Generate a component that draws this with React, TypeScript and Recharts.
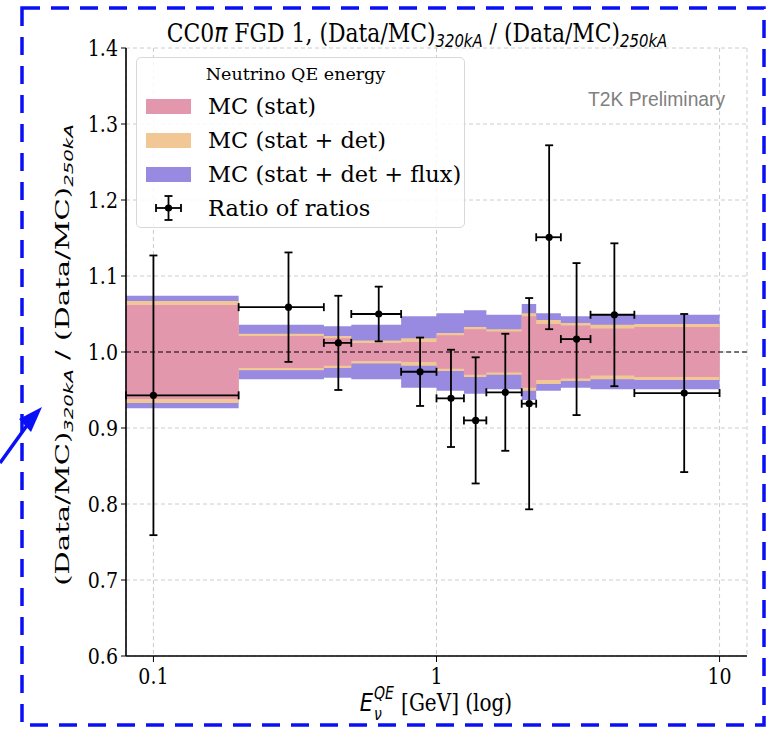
import React from "react";
import {
  Area,
  CartesianGrid,
  ComposedChart,
  ErrorBar,
  ReferenceLine,
  Scatter,
  XAxis,
  YAxis,
} from "recharts";

// energy bins (GeV); the first bin starts below the visible range
const binEdges = [0.08, 0.2, 0.4, 0.5, 0.75, 1, 1.25, 1.5, 2, 2.25, 2.75, 3.5, 5, 10];
const binCenters = [0.1, 0.3, 0.45, 0.625, 0.875, 1.125, 1.375, 1.75, 2.125, 2.5, 3.125, 4.25, 7.5];

const ratioOfRatios = [0.943, 1.059, 1.012, 1.05, 0.974, 0.939, 0.91, 0.947, 0.932, 1.151, 1.017, 1.049, 0.946];
const ratioErr = [0.184, 0.072, 0.062, 0.036, 0.045, 0.064, 0.083, 0.077, 0.139, 0.121, 0.1, 0.094, 0.104];

// half widths of the MC bands around 1
const statErr = [0.062, 0.021, 0.018, 0.012, 0.013, 0.022, 0.03, 0.027, 0.047, 0.037, 0.035, 0.031, 0.033];
const detErr = [0.067, 0.024, 0.021, 0.015, 0.018, 0.025, 0.033, 0.03, 0.051, 0.042, 0.038, 0.036, 0.037];
const fluxErr = [0.074, 0.036, 0.034, 0.036, 0.047, 0.051, 0.055, 0.049, 0.063, 0.051, 0.047, 0.049, 0.049];

const xTicks = [0.1, 1, 10];
const xMinorTicks = [0.09, 0.2, 0.3, 0.4, 0.5, 0.6, 0.7, 0.8, 0.9, 2, 3, 4, 5, 6, 7, 8, 9];
const yTicks = [0.6, 0.7, 0.8, 0.9, 1.0, 1.1, 1.2, 1.3, 1.4];

const X_DOMAIN = [0.08, 12.5];
const Y_DOMAIN = [0.6, 1.4];

const PINK = "#e397ad";
const ORANGE = "#f1c795";
const BLUE = "#978ae0";

const SERIF = "'DejaVu Serif', serif";
const MATH = "'DejaVu Sans', sans-serif";
// the source picture is a bit taller than wide, text looks stretched
const STRETCH = 1.2;

const bandRows = binEdges.map((x, i) => {
  const k = Math.min(i, statErr.length - 1);
  return {
    x,
    stat: [1 - statErr[k], 1 + statErr[k]],
    det: [1 - detErr[k], 1 + detErr[k]],
    flux: [1 - fluxErr[k], 1 + fluxErr[k]],
  };
});

const points = binCenters.map((x, i) => ({
  x,
  y: ratioOfRatios[i],
  xerr: [x - binEdges[i], binEdges[i + 1] - x],
  yerr: ratioErr[i],
}));

const frame = { stroke: "#000", strokeWidth: 1.6 };

const legendItems = [
  { label: "MC (stat)", color: PINK },
  { label: "MC (stat + det)", color: ORANGE },
  { label: "MC (stat + det + flux)", color: BLUE },
];

function YTick({ x, y, payload }: any) {
  return (
    <text
      x={x}
      y={y}
      textAnchor="end"
      dominantBaseline="central"
      fontFamily={SERIF}
      fontSize={19}
      fill="#000"
      transform={`translate(0 ${y}) scale(1 ${STRETCH}) translate(0 ${-y})`}
    >
      {Number(payload.value).toFixed(1)}
    </text>
  );
}

function XTick({ x, y, payload }: any) {
  return (
    <text
      x={x}
      y={y}
      textAnchor="middle"
      dominantBaseline="hanging"
      fontFamily={SERIF}
      fontSize={19}
      fill="#000"
      transform={`translate(0 ${y}) scale(1 ${STRETCH}) translate(0 ${-y})`}
    >
      {String(payload.value)}
    </text>
  );
}

function Sub({ children }: { children: React.ReactNode }) {
  return (
    <span style={{ fontFamily: MATH, fontStyle: "italic", fontSize: "0.68em", position: "relative", top: "0.3em" }}>
      {children}
    </span>
  );
}

export default function App() {
  return (
    <div style={{ position: "fixed", left: 0, top: 0, width: 769, height: 730, background: "#fff", overflow: "hidden" }}>
      <ComposedChart width={769} height={730} margin={{ top: 48, right: 22, bottom: 34, left: 66 }}>
        <CartesianGrid stroke="#cccccc" strokeDasharray="4 3" />
        <XAxis
          xAxisId="minor"
          dataKey="x"
          type="number"
          scale="log"
          domain={X_DOMAIN}
          allowDataOverflow
          ticks={xMinorTicks}
          tickFormatter={() => ""}
          tickSize={3}
          tickLine={{ stroke: "#000" }}
          axisLine={false}
          height={0}
        />
        <XAxis
          dataKey="x"
          type="number"
          scale="log"
          domain={X_DOMAIN}
          allowDataOverflow
          ticks={xTicks}
          tick={<XTick />}
          tickSize={6}
          tickMargin={5}
          tickLine={{ stroke: "#000" }}
          axisLine={frame}
          height={40}
        />
        <XAxis
          xAxisId="top"
          orientation="top"
          dataKey="x"
          type="number"
          scale="log"
          domain={X_DOMAIN}
          allowDataOverflow
          tick={false}
          tickLine={false}
          axisLine={frame}
          height={0}
        />
        <YAxis
          type="number"
          domain={Y_DOMAIN}
          ticks={yTicks}
          tick={<YTick />}
          tickSize={5}
          tickMargin={3}
          tickLine={{ stroke: "#000" }}
          axisLine={frame}
          width={60}
        />
        <YAxis yAxisId="right" orientation="right" type="number" domain={Y_DOMAIN} tick={false} tickLine={false} axisLine={frame} width={0} />

        <Area data={bandRows} dataKey="flux" type="stepAfter" fill={BLUE} fillOpacity={1} stroke="none" dot={false} activeDot={false} isAnimationActive={false} />
        <Area data={bandRows} dataKey="det" type="stepAfter" fill={ORANGE} fillOpacity={1} stroke="none" dot={false} activeDot={false} isAnimationActive={false} />
        <Area data={bandRows} dataKey="stat" type="stepAfter" fill={PINK} fillOpacity={1} stroke="none" dot={false} activeDot={false} isAnimationActive={false} />

        <ReferenceLine y={1} stroke="#000" strokeWidth={1.2} strokeDasharray="5 3" />

        <Scatter
          data={points}
          dataKey="y"
          fill="#000"
          isAnimationActive={false}
          shape={(p: any) => <circle cx={p.cx} cy={p.cy} r={3.6} fill="#000" />}
        >
          <ErrorBar dataKey="xerr" direction="x" stroke="#000" strokeWidth={1.8} width={4} />
          <ErrorBar dataKey="yerr" direction="y" stroke="#000" strokeWidth={1.8} width={4} />
        </Scatter>
      </ComposedChart>

      {/* title */}
      <div
        style={{
          position: "absolute",
          left: 117,
          top: 22,
          width: 600,
          textAlign: "center",
          fontFamily: SERIF,
          fontSize: 21.9,
          lineHeight: 1.1,
          whiteSpace: "nowrap",
          transform: `scaleY(${STRETCH})`,
        }}
      >
        CC0<span style={{ fontFamily: MATH, fontStyle: "italic" }}>π</span> FGD 1, (Data/MC)<Sub>320kA</Sub> / (Data/MC)<Sub>250kA</Sub>
      </div>

      {/* y label */}
      <div
        style={{
          position: "absolute",
          left: 63,
          top: 355,
          transform: `translate(-50%, -50%) scaleY(1.57) rotate(-90deg)`,
          fontFamily: SERIF,
          fontSize: 18.5,
          lineHeight: 1.1,
          whiteSpace: "nowrap",
        }}
      >
        (Data/MC)<Sub>320kA</Sub> / (Data/MC)<Sub>250kA</Sub>
      </div>

      {/* x label */}
      <div
        style={{
          position: "absolute",
          left: 136,
          top: 694,
          width: 600,
          textAlign: "center",
          fontFamily: SERIF,
          fontSize: 20,
          lineHeight: 0.9,
          whiteSpace: "nowrap",
          transform: `scaleY(${STRETCH})`,
        }}
      >
        <span style={{ fontFamily: MATH, fontStyle: "italic", fontSize: 21 }}>E</span>
        <span style={{ display: "inline-block", position: "relative", width: 28, height: 10 }}>
          <span style={{ position: "absolute", left: 1, top: -12, fontFamily: MATH, fontStyle: "italic", fontSize: 14, lineHeight: 1 }}>QE</span>
          <span style={{ position: "absolute", left: 1, top: 5, fontFamily: MATH, fontStyle: "italic", fontSize: 14, lineHeight: 1 }}>ν</span>
        </span>
        [GeV] (log)
      </div>

      {/* T2K Preliminary */}
      <div style={{ position: "absolute", left: 588, top: 89, fontFamily: "'Liberation Sans', Arial, sans-serif", fontSize: 19.3, color: "#808080" }}>
        T2K Preliminary
      </div>

      {/* legend */}
      <div
        style={{
          position: "absolute",
          left: 136,
          top: 57,
          width: 329,
          height: 171,
          border: "1px solid #d8d8d8",
          borderRadius: 5,
          background: "rgba(255,255,255,0.85)",
          fontFamily: SERIF,
          boxSizing: "border-box",
        }}
      >
        <div style={{ position: "absolute", left: 0, right: 0, top: 6, textAlign: "center", fontSize: 17.5, marginLeft: -10 }}>Neutrino QE energy</div>
        {legendItems.map((it, i) => (
          <div key={it.label} style={{ position: "absolute", left: 9, top: 33 + i * 34, height: 30, display: "flex", alignItems: "center" }}>
            <span style={{ display: "inline-block", width: 45, height: 15, background: it.color }} />
            <span style={{ fontSize: 22.5, marginLeft: 17, whiteSpace: "nowrap" }}>{it.label}</span>
          </div>
        ))}
        <div style={{ position: "absolute", left: 9, top: 33 + 3 * 34, height: 30, display: "flex", alignItems: "center" }}>
          <svg width={45} height={28}>
            <line x1={10} y1={14} x2={35} y2={14} stroke="#000" strokeWidth={1.8} />
            <line x1={22.5} y1={2} x2={22.5} y2={26} stroke="#000" strokeWidth={1.8} />
            <line x1={10} y1={10} x2={10} y2={18} stroke="#000" strokeWidth={1.8} />
            <line x1={35} y1={10} x2={35} y2={18} stroke="#000" strokeWidth={1.8} />
            <line x1={18.5} y1={2} x2={26.5} y2={2} stroke="#000" strokeWidth={1.8} />
            <line x1={18.5} y1={26} x2={26.5} y2={26} stroke="#000" strokeWidth={1.8} />
            <circle cx={22.5} cy={14} r={3.6} fill="#000" />
          </svg>
          <span style={{ fontSize: 22.5, marginLeft: 17, whiteSpace: "nowrap" }}>Ratio of ratios</span>
        </div>
      </div>

      {/* slide decoration: dashed frame and arrow */}
      <svg width={769} height={730} style={{ position: "absolute", left: 0, top: 0, pointerEvents: "none" }}>
        <rect x={22} y={8} width={742} height={717} fill="none" stroke="#0a10f5" strokeWidth={3.5} strokeDasharray="18 11" />
        <line x1={0} y1={463} x2={28} y2={424} stroke="#0a10f5" strokeWidth={3.5} />
        <polygon points="42,407 19,419 31,432" fill="#0a10f5" />
      </svg>
    </div>
  );
}
